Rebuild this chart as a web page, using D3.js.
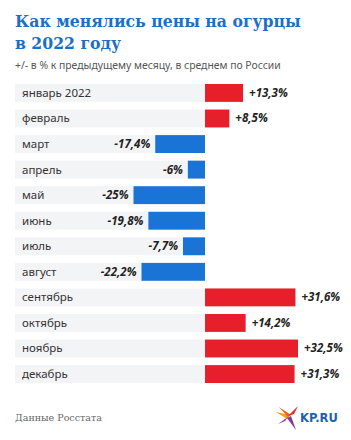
<!DOCTYPE html>
<html>
<head>
<meta charset="utf-8">
<script src="https://cdn.jsdelivr.net/npm/d3@7"></script>
<style>
  body { margin: 0; background: #fff; }
  svg { display: block; }
</style>
</head>
<body>
<svg id="chart" width="351" height="440"></svg>
<script>
const months = ["январь 2022", "февраль", "март", "апрель", "май", "июнь",
  "июль", "август", "сентябрь", "октябрь", "ноябрь", "декабрь"];
const changes = [13.3, 8.5, -17.4, -6, -25, -19.8, -7.7, -22.2, 31.6, 14.2, 32.5, 31.3];
const valueLabels = ["+13,3%", "+8,5%", "-17,4%", "-6%", "-25%", "-19,8%",
  "-7,7%", "-22,2%", "+31,6%", "+14,2%", "+32,5%", "+31,3%"];

const rows = months.map((m, i) => ({ month: m, value: changes[i], label: valueLabels[i] }));

const svg = d3.select("#chart");
const RED = "#e61f2b";
const BLUE = "#1a74d6";

// title, shrunk until the first line fits ~285px
const title = svg.append("g").attr("fill", "#1d6ec4")
  .attr("font-family", "'DejaVu Serif', serif")
  .attr("font-stretch", "condensed")
  .attr("font-weight", "bold")
  .attr("font-size", 20);
const t1 = title.append("text").attr("x", 15).attr("y", 27)
  .text("Как менялись цены на огурцы");
title.append("text").attr("x", 15).attr("y", 49)
  .text("в 2022 году");
const w = t1.node().getComputedTextLength();
if (w > 286) title.attr("font-size", 20 * 286 / w);

svg.append("text").attr("x", 15).attr("y", 69)
  .attr("font-family", "'Noto Sans', sans-serif")
  .attr("font-size", 10.4).attr("fill", "#555")
  .text("+/- в % к предыдущему месяцу, в среднем по России");

const y = d3.scaleBand().domain(months).range([84, 383]).paddingInner(0.3);
const x = d3.scaleLinear().domain([-25, 32.5]).range([133.5, 298]);

const row = svg.append("g").selectAll("g").data(rows).join("g")
  .attr("transform", d => `translate(0,${y(d.month)})`);

row.append("rect")
  .attr("x", 15).attr("width", x(0) - 15)
  .attr("height", y.bandwidth())
  .attr("fill", "#f3f4f6");

row.append("text")
  .attr("x", 22).attr("y", y.bandwidth() / 2 + 4)
  .attr("font-family", "'Noto Sans', sans-serif")
  .attr("font-size", 11.5).attr("fill", "#333")
  .text(d => d.month);

row.append("rect")
  .attr("x", d => x(Math.min(0, d.value)))
  .attr("width", d => Math.abs(x(d.value) - x(0)))
  .attr("height", y.bandwidth())
  .attr("fill", d => d.value > 0 ? RED : BLUE);

row.append("text")
  .attr("x", d => d.value > 0 ? x(d.value) + 6 : x(d.value) - 5)
  .attr("y", y.bandwidth() / 2 + 4)
  .attr("text-anchor", d => d.value > 0 ? "start" : "end")
  .attr("font-family", "'Noto Sans', sans-serif")
  .attr("font-size", 11.5).attr("font-weight", "bold").attr("font-style", "italic")
  .attr("fill", "#222")
  .text(d => d.label);

// footer
svg.append("text").attr("x", 15).attr("y", 421)
  .attr("font-family", "'DejaVu Serif', serif")
  .attr("font-size", 9.5).attr("fill", "#666")
  .text("Данные Росстата");

// kp.ru logo
const logo = svg.append("g").attr("transform", "translate(276,406)");
logo.append("path").attr("d", "M0,6 L14,9 L11,13 Z").attr("fill", "#f7a21b");
logo.append("path").attr("d", "M3,1 L15,9 L12,11 Z").attr("fill", "#f15a24");
logo.append("path").attr("d", "M12,10 L22,0 L18,8 Z").attr("fill", "#e8262d");
logo.append("path").attr("d", "M11,12 L15,10 L20,24 Z").attr("fill", "#7b3f98");
logo.append("path").attr("d", "M2,18 L12,11 L9,15 Z").attr("fill", "#9b2a8c");
logo.append("text").attr("x", 24).attr("y", 16)
  .attr("font-family", "'DejaVu Sans', sans-serif")
  .attr("font-weight", "bold").attr("font-size", 11.5)
  .attr("fill", "#1f5fae")
  .text("KP.RU");
</script>
</body>
</html>
